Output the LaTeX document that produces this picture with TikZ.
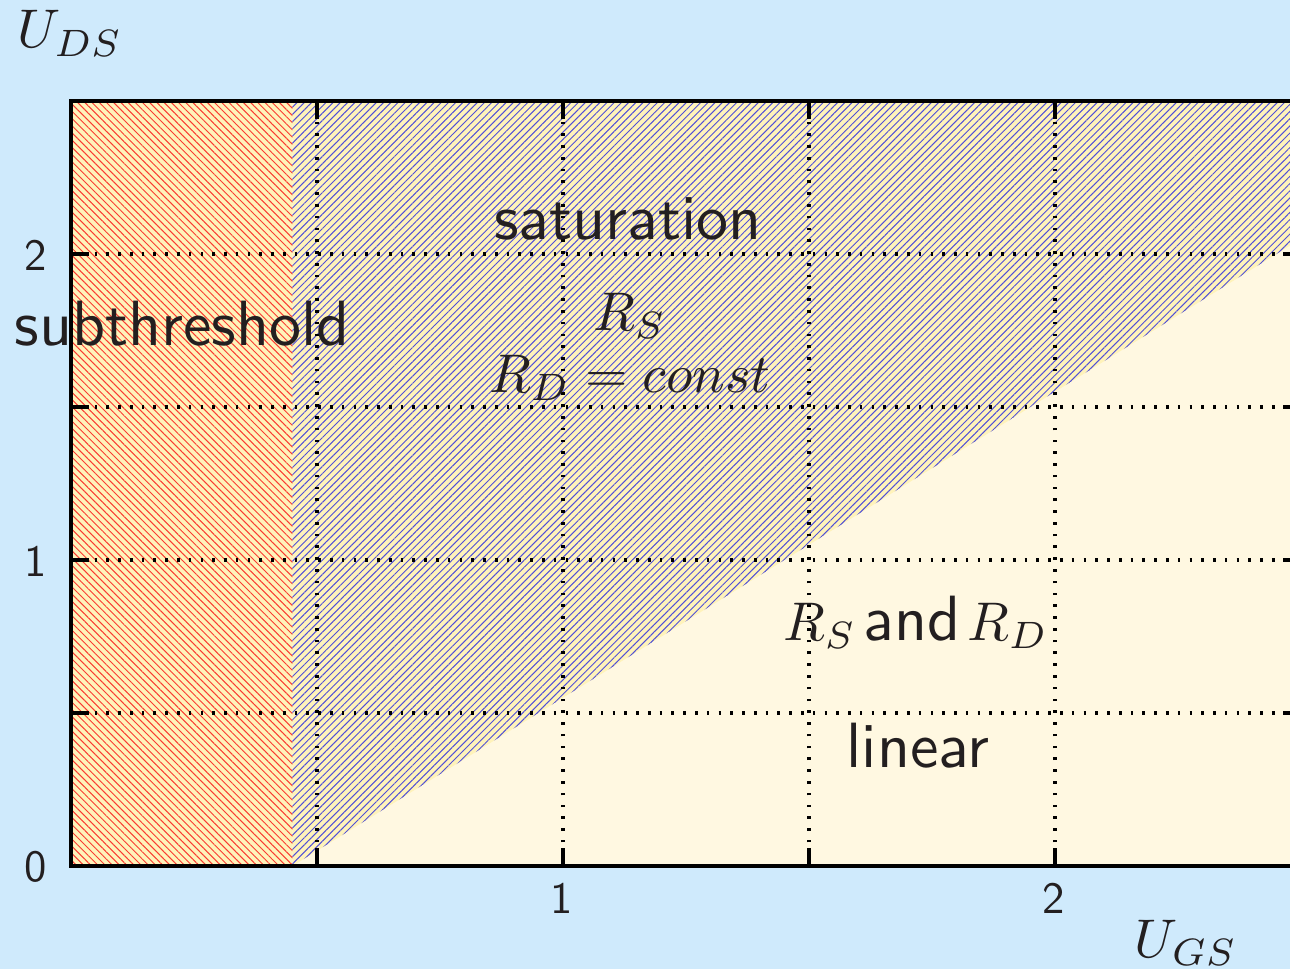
\documentclass[tikz,border=0pt]{standalone}
\usepackage{fontspec}
\usetikzlibrary{patterns.meta}
\definecolor{bgblue}{RGB}{207,234,252}
\definecolor{satyellow}{RGB}{255,243,186}
\definecolor{lincream}{RGB}{255,248,225}
\definecolor{hatchblue}{RGB}{80,80,215}
\definecolor{hatchred}{RGB}{250,60,50}
\definecolor{ink}{RGB}{35,31,32}
\newcommand\sansz[1]{\scalebox{1.82}{\sffamily\fontsize{10}{12}\selectfont #1}}
\newcommand\mathz[1]{\scalebox{1.55}{\fontsize{10}{12}\selectfont $#1$}}
\newcommand\tickz[1]{\scalebox{1.27}{\sffamily\fontsize{10}{12}\selectfont #1}}
\tikzset{
  gridline/.style={black, line width=1.05pt, dash pattern=on 0.75pt off 2.6pt},
  framestyle/.style={black, line width=1.15pt},
  ticklab/.style={text=ink, inner sep=0pt},
  regionlab/.style={text=ink, inner sep=0pt, anchor=base},
}
\begin{document}
\begin{tikzpicture}
% canvas: 1px = 0.01cm, origin at pixel (71,866)
\useasboundingbox (-0.71,-1.03) rectangle (12.19,8.66);
\clip (-0.71,-1.03) rectangle (12.19,8.66);
\fill[bgblue] (-0.71,-1.03) rectangle (12.19,8.66);
\begin{scope}[x=4.92cm, y=3.06cm]
  % regions
  \fill[lincream] (0,0) rectangle (2.5,2.5);
  \fill[satyellow] (0.45,0) -- (2.5,2.05) -- (2.5,2.5) -- (0.45,2.5) -- cycle;
  \fill[pattern={Lines[angle=45,distance=1.45pt,line width=0.28pt]}, pattern color=hatchblue]
     (0.45,0) -- (2.5,2.05) -- (2.5,2.5) -- (0.45,2.5) -- cycle;
  \fill[satyellow] (0,0) rectangle (0.45,2.5);
  \fill[pattern={Lines[angle=-45,distance=1.45pt,line width=0.28pt]}, pattern color=hatchred]
     (0,0) rectangle (0.45,2.5);
  % grid
  \foreach \v in {0.5,1,1.5,2} {
    \draw[gridline] (\v,0) -- (\v,2.5);
    \draw[gridline] (0,\v) -- (2.5,\v);
  }
  % frame
  \draw[framestyle] (0,0) rectangle (2.5,2.5);
  \foreach \v in {0.5,1,1.5,2} {
    \draw[framestyle] (\v,0) -- ++(0,0.18cm);
    \draw[framestyle] (\v,2.5) -- ++(0,-0.18cm);
    \draw[framestyle] (0,\v) -- ++(0.18cm,0);
    \draw[framestyle] (2.5,\v) -- ++(-0.18cm,0);
  }
\end{scope}
% tick labels
\node[ticklab] (y0) at (-0.35,-0.01) {\tickz{0}};
\node[ticklab] (y1) at (-0.35,3.05) {\tickz{1}};
\node[ticklab] (y2) at (-0.35,6.11) {\tickz{2}};
\node[ticklab] (x1) at (4.91,-0.325) {\tickz{1}};
\node[ticklab] (x2) at (9.83,-0.325) {\tickz{2}};
% axis labels
\node[regionlab] (uds) at (-0.01,8.18) {\mathz{U_{DS}}};
\node[regionlab] (ugs) at (11.15,-0.91) {\mathz{U_{GS}}};
% region labels
\node[regionlab] (sat) at (5.57,6.26) {\sansz{saturation}};
\node[regionlab] (sub) at (1.11,5.21) {\sansz{subthreshold}};
\node[regionlab] (rs) at (5.59,5.36) {\mathz{R_S}};
\node[regionlab] (rdc) at (5.59,4.74) {\mathz{R_D = const}};
\node[regionlab] (rsrd) at (8.45,2.26) {\mathz{R_S}\hspace{2pt}\sansz{and}\hspace{2pt}\mathz{R_D}};
\node[regionlab] (lin) at (8.47,0.99) {\sansz{linear}};
\end{tikzpicture}
\end{document}
